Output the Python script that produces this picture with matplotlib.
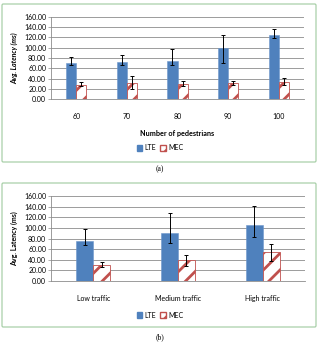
import matplotlib
matplotlib.use("Agg")
import matplotlib.pyplot as plt
import numpy as np
from matplotlib.patches import FancyBboxPatch, Patch

plt.rcParams['font.family'] = ['Lato', 'DejaVu Sans']
plt.rcParams['hatch.linewidth'] = 2.0
plt.rcParams['hatch.color'] = '#C0504D'

# ---- data (a)
ped_labels = ['60', '70', '80', '90', '100']
lte_a = [71, 73, 75, 100, 125]
lte_a_lo = [66, 66, 66, 70, 119]
lte_a_hi = [81, 85, 98, 125, 137]
mec_a = [28, 32, 30, 32, 33]
mec_a_lo = [25, 20, 26, 28, 28]
mec_a_hi = [33, 45, 35, 36, 41]

# ---- data (b)
traffic_labels = ['Low traffic', 'Medium traffic', 'High traffic']
lte_b = [75, 90, 105]
lte_b_lo = [68, 72, 82]
lte_b_hi = [98, 128, 142]
mec_b = [30, 39, 54]
mec_b_lo = [26, 28, 38]
mec_b_hi = [35, 49, 69]

yticks = [0, 20, 40, 60, 80, 100, 120, 140, 160]

W, H = 319, 345
fig = plt.figure(figsize=(W/100, H/100), dpi=100)

def px(x0, y0, x1, y1):
    return [x0/W, 1 - y1/H, (x1-x0)/W, (y1-y0)/H]

blue = '#4F81BD'
red = '#C0504D'
grid = '#8C8C8C'

# borders
for (x0, y0, x1, y1) in [(2, 4, 316, 162), (2, 183, 316, 327)]:
    fig.patches.append(FancyBboxPatch((x0/W, 1-y1/H), (x1-x0)/W, (y1-y0)/H,
                                      boxstyle='round,pad=0,rounding_size=0.004',
                                      transform=fig.transFigure, fill=False,
                                      edgecolor='#A9D0A9', linewidth=0.9))

def draw(ax, labels, lte, lte_lo, lte_hi, mec, mec_lo, mec_hi, ylab_style):
    n = len(labels)
    x = np.arange(n)
    w = 0.2
    lte = np.array(lte); mec = np.array(mec)
    err_l = [lte - np.array(lte_lo), np.array(lte_hi) - lte]
    err_m = [mec - np.array(mec_lo), np.array(mec_hi) - mec]
    ax.bar(x - w/2, lte, w, color=blue, edgecolor='#6D97CC', linewidth=0.4, zorder=3)
    ax.bar(x + w/2, mec, w, color='white', edgecolor=red, hatch='//', linewidth=0.6, zorder=3)
    ax.errorbar(x - w/2, lte, yerr=err_l, fmt='none', ecolor='black', elinewidth=0.7, capsize=1.6, capthick=0.7, zorder=4)
    ax.errorbar(x + w/2, mec, yerr=err_m, fmt='none', ecolor='black', elinewidth=0.7, capsize=1.6, capthick=0.7, zorder=4)
    ax.set_xlim(-0.5, n - 0.5)
    ax.set_ylim(0, 160)
    ax.set_yticks(yticks)
    ax.set_yticklabels(['%.2f' % v for v in yticks], fontsize=5)
    ax.set_xticks(x)
    ax.set_xticklabels(labels, fontsize=5)
    ax.tick_params(axis='x', length=0, pad=10)
    ax.tick_params(axis='y', length=2, width=0.5, color=grid, pad=1.5)
    ax.yaxis.grid(True, color=grid, linewidth=0.6, zorder=0)
    ax.set_axisbelow(True)
    for s in ['top', 'right']:
        ax.spines[s].set_visible(False)
    for s in ['left', 'bottom']:
        ax.spines[s].set_color(grid)
        ax.spines[s].set_linewidth(0.6)
    ax.set_ylabel('Avg. Latency (ms)', fontsize=5, fontweight='bold', fontstyle=ylab_style, labelpad=4)

ax1 = fig.add_axes(px(51, 17, 304, 99))
draw(ax1, ped_labels, lte_a, lte_a_lo, lte_a_hi, mec_a, mec_a_lo, mec_a_hi, 'italic')
ax1.set_xlabel('Number of pedestrians', fontsize=5.2, fontweight='bold', labelpad=7)

ax2 = fig.add_axes(px(51, 196, 305, 281))
draw(ax2, traffic_labels, lte_b, lte_b_lo, lte_b_hi, mec_b, mec_b_lo, mec_b_hi, 'normal')

handles = [Patch(facecolor=blue, edgecolor=blue, label='LTE'),
           Patch(facecolor='white', edgecolor=red, hatch='//', label='MEC')]
for yc in [148, 315]:
    fig.legend(handles=handles, loc='center', bbox_to_anchor=(160/W, 1 - yc/H),
               ncol=2, frameon=False, fontsize=5, handlelength=0.8, handleheight=0.8,
               handletextpad=0.3, columnspacing=0.6)

fig.text(160/W, 1 - 169/H, '(a)', ha='center', va='center', fontsize=5.5,
         family=['Liberation Serif', 'DejaVu Serif'])
fig.text(160/W, 1 - 337/H, '(b)', ha='center', va='center', fontsize=5.5,
         family=['Liberation Serif', 'DejaVu Serif'])

fig.savefig('out.png', dpi=100)
